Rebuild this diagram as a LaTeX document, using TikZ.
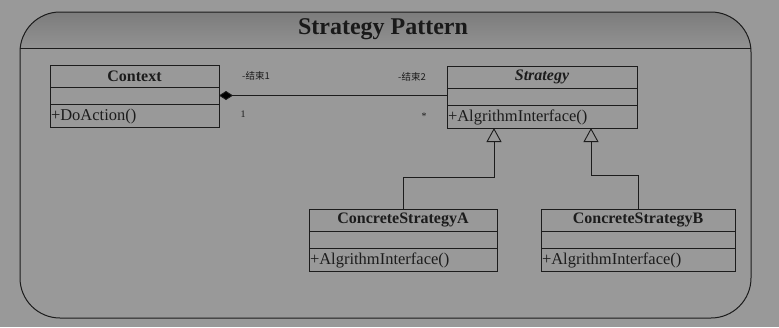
\documentclass[tikz,border=0pt]{standalone}
\usepackage{fontspec}
\setmainfont{Liberation Serif}
\newfontfamily\cjk{Noto Sans CJK SC}
\usetikzlibrary{arrows.meta,calc}
\definecolor{bggray}{RGB}{153,153,153}
\definecolor{hdtop}{RGB}{124,124,124}
\definecolor{hdbot}{RGB}{146,146,146}
\definecolor{ink}{RGB}{28,28,28}
\tikzset{
  x=1pt, y=-1pt,
  part/.style={draw=ink, line width=0.9pt, fill=bggray, inner sep=1pt, outer sep=0pt, anchor=north west},
  titlepart/.style={part, font=\fontsize{16}{18}\selectfont\bfseries, text=ink},
  methpart/.style={part, font=\fontsize{16.5}{18}\selectfont, text=ink, align=left, text depth=2pt},
  assoc/.style={draw=ink, line width=0.9pt},
  gen/.style={draw=ink, line width=0.9pt, -{Triangle[open, length=14pt, width=15pt, fill=bggray]}},
  rolelabel/.style={font=\cjk\fontsize{9.5}{11}\selectfont, text=ink, inner sep=0pt},
  multlabel/.style={font=\fontsize{10}{11}\selectfont, text=ink, inner sep=0pt},
}
% a UML class box: name, x, y, width, title, method
\newcommand{\umlclass}[6]{%
  \node[titlepart, minimum width=#4, minimum height=22] (#1) at (#2,#3) {#5};
  \node[part, minimum width=#4, minimum height=17] (#1-a) at ($(#1.south west)$) {};
  \node[methpart, minimum width=#4, minimum height=23, text width=#4-2pt] (#1-m) at ($(#1-a.south west)$) {#6};
}
\begin{document}
\begin{tikzpicture}
\useasboundingbox (0,0) rectangle (779,327);
\fill[bggray] (0,0) rectangle (779,327);

% outer frame with shaded header band
\begin{scope}
  \clip[rounded corners=40pt] (20,12) rectangle (751,318);
  \shade[top color=hdtop, bottom color=hdbot] (20,12) rectangle (751,48);
\end{scope}
\draw[ink, line width=1pt, rounded corners=40pt] (20,12) rectangle (751,318);
\draw[ink, line width=1pt] (20,48) -- (751,48);
\node[font=\fontsize{24}{26}\selectfont\bfseries, text=black!90] (title) at (383,29) {Strategy Pattern};

% classes
\umlclass{ctx}{50}{65}{169}{Context}{+DoAction()}
\umlclass{str}{447}{66}{190}{\itshape Strategy}{+AlgrithmInterface()}
\umlclass{ca}{309}{209}{188}{ConcreteStrategyA}{+AlgrithmInterface()}
\umlclass{cb}{541}{209}{194}{ConcreteStrategyB}{+AlgrithmInterface()}

% aggregation between Context and Strategy
\draw[assoc, {Diamond[length=14pt, width=9pt, fill=black]}-] (ctx-a.east) -- (ctx-a.east -| str-a.west);
\node[rolelabel] (r1) at (256,76) {-结束1};
\node[multlabel] (m1) at (243,114) {1};
\node[rolelabel] (r2) at (412,77) {-结束2};
\node[multlabel] (m2) at (424,116) {*};

% generalizations
\coordinate (sa) at ($(str-m.south west)+(47,0)$);
\coordinate (sb) at ($(str-m.south west)+(144,0)$);
\draw[gen] (ca.north -| 403,0) -- (403,177) -| (sa);
\draw[gen] (cb.north -| 638,0) -- (638,175) -| (sb);
\end{tikzpicture}
\end{document}
